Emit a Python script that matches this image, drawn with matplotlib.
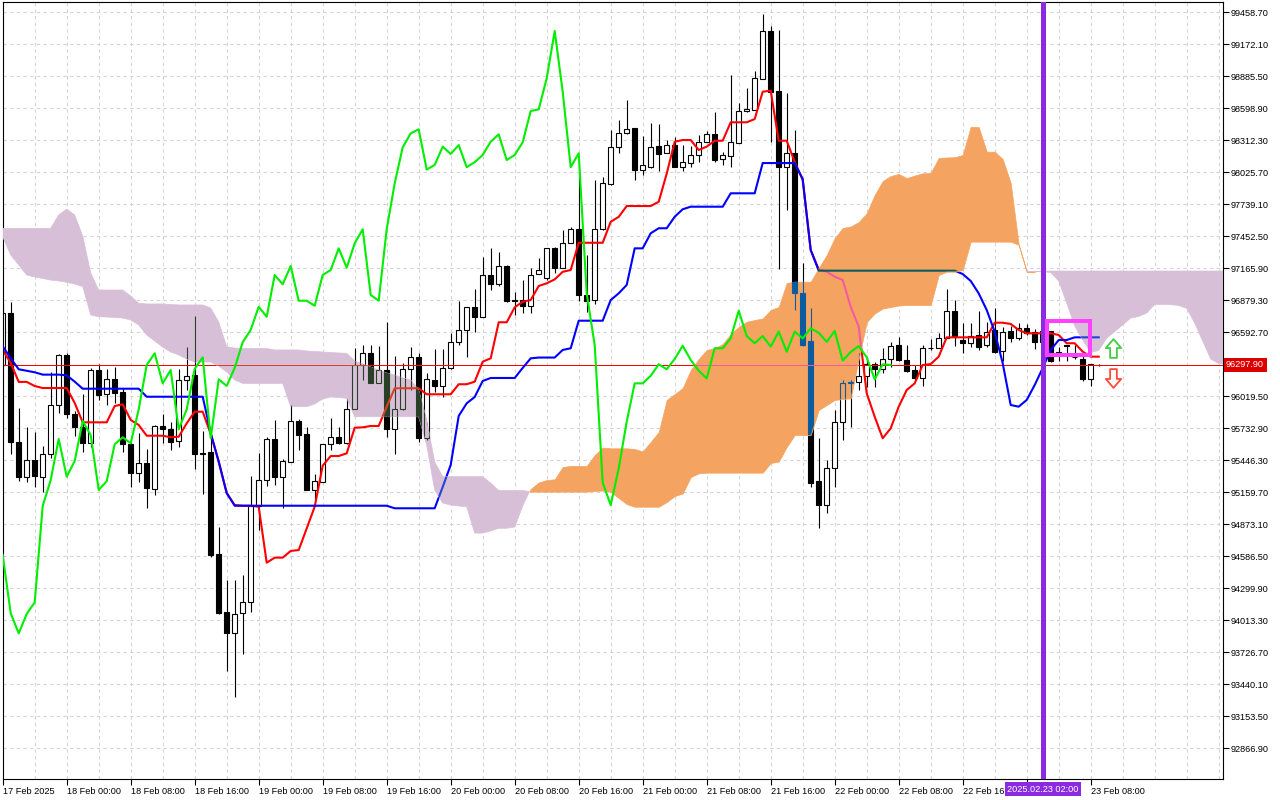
import matplotlib
matplotlib.use("Agg")
import matplotlib.pyplot as plt
import numpy as np
from matplotlib.path import Path
from matplotlib.patches import Rectangle

plt.rcParams["font.family"] = ["Liberation Sans", "DejaVu Sans"]

# BTCUSD H1, first bar = 17 Feb 2025 16:00
opens = [
    96297, 96766, 95610, 95297, 95446, 95291, 95498, 95936, 96384, 95856,
    95745, 95601, 96252, 96035, 96169, 96056, 95587, 95330, 95417, 95189,
    95751, 95721, 95617, 96160, 96208, 95507, 95516, 94605, 94082, 93894,
    94074, 94177, 95035, 95267, 95635, 95297, 95431, 95796, 95679, 95178,
    95252, 95587, 95650, 95596, 95900, 96297, 96402, 96133, 96252, 95721,
    95900, 96262, 96366, 95641, 96163, 96110, 96271, 96501, 96611, 96814,
    96729, 97103, 97020, 97184, 96879, 96879, 96828, 97109, 97076, 97342,
    97169, 97387, 97513, 96924, 96879, 97513, 97918, 98247, 98372, 98417,
    98048, 98074, 98259, 98193, 98267, 98069, 98110, 98178, 98297, 98363,
    98139, 98172, 98288, 98572, 98581, 98859, 99289, 98754, 98069, 98193,
    96939, 96512, 95258, 95043, 95371, 95789, 96142, 96142, 96200, 96304,
    96259, 96351, 96476, 96343, 96252, 96178, 96447, 96447, 96536, 96784,
    96521, 96492, 96566, 96476, 96611, 96426, 96602, 96536, 96626, 96590,
    96505, 96602, 96396, 96476, 96369, 96348, 96169, 96300,
]
highs = [
    96835, 96864, 95910, 95745, 95700, 95572, 96232, 96393, 96402, 95888,
    96037, 96271, 96306, 96262, 96282, 96089, 95596, 95686, 95549, 95760,
    95858, 95789, 96259, 96456, 96736, 95709, 95644, 94844, 94372, 94372,
    94416, 95303, 95509, 95655, 95805, 95455, 95939, 95814, 95745, 95320,
    95590, 95825, 95739, 95993, 96447, 96476, 96476, 96467, 96685, 96378,
    96313, 96462, 96402, 96223, 96441, 96441, 96581, 96870, 96819, 96982,
    97267, 97342, 97312, 97193, 96954, 97059, 97162, 97253, 97342, 97357,
    97506, 97530, 98026, 97282, 97954, 97984, 98402, 98491, 98671, 98417,
    98348, 98462, 98453, 98312, 98336, 98267, 98259, 98357, 98393, 98560,
    98207, 98895, 98641, 98775, 98933, 99441, 99333, 99297, 98731, 98402,
    97207, 96805, 95646, 95446, 95894, 96163, 96163, 96402, 96372, 96325,
    96447, 96501, 96551, 96476, 96297, 96476, 96528, 96581, 96978, 96879,
    96676, 96676, 96784, 96685, 96805, 96640, 96646, 96670, 96661, 96617,
    96655, 96602, 96456, 96476, 96476, 96408, 96306, 96306,
]
lows = [
    96270, 95500, 95260, 95252, 95207, 95160, 95462, 95870, 95825, 95664,
    95515, 95566, 95984, 95939, 95954, 95521, 95207, 95252, 95014, 95136,
    95596, 95536, 95566, 96073, 95363, 95141, 94575, 94067, 93558, 93326,
    93706, 94087, 94820, 95216, 95223, 95019, 95431, 95536, 95178, 95088,
    95249, 95536, 95587, 95587, 95900, 96163, 96133, 96133, 95650, 95498,
    95894, 96073, 95610, 95624, 96058, 96013, 96262, 96476, 96372, 96590,
    96729, 96969, 97007, 96864, 96745, 96760, 96760, 97109, 97058, 97121,
    97166, 97387, 96873, 96775, 96844, 97506, 97909, 98193, 98366, 97954,
    97999, 98059, 98037, 98193, 98069, 98037, 98074, 98118, 98297, 98118,
    98089, 98068, 98288, 98563, 98581, 98859, 98297, 97154, 97685, 96790,
    96465, 95207, 94840, 94974, 95207, 95624, 95745, 96073, 96103, 96103,
    96224, 96282, 96337, 96235, 96163, 96110, 96432, 96447, 96536, 96467,
    96402, 96456, 96432, 96458, 96405, 96337, 96503, 96521, 96566, 96438,
    96476, 96325, 96337, 96337, 96354, 96157, 96110, 96292,
]
closes = [
    96766, 95610, 95297, 95446, 95303, 95498, 95936, 96384, 95856, 95745,
    95601, 96252, 96029, 96169, 96049, 95587, 95330, 95417, 95198, 95751,
    95721, 95610, 96163, 96201, 95498, 95498, 94596, 94074, 93894, 94067,
    94172, 95035, 95267, 95635, 95297, 95437, 95796, 95670, 95178, 95256,
    95587, 95650, 95596, 95900, 96297, 96402, 96133, 96252, 95721, 95900,
    96262, 96366, 95641, 96169, 96110, 96271, 96501, 96611, 96819, 96729,
    97103, 97020, 97184, 96873, 96873, 96828, 97103, 97148, 97342, 97169,
    97387, 97513, 96924, 96873, 97513, 97925, 98247, 98372, 98408, 98048,
    98089, 98253, 98187, 98267, 98069, 98114, 98178, 98297, 98363, 98133,
    98178, 98292, 98572, 98587, 98865, 99289, 98745, 98069, 98193, 96939,
    96476, 95243, 95043, 95371, 95789, 96133, 96133, 96200, 96304, 96259,
    96351, 96470, 96343, 96246, 96178, 96447, 96447, 96536, 96784, 96557,
    96492, 96557, 96462, 96596, 96417, 96596, 96536, 96626, 96586, 96505,
    96602, 96337, 96414, 96467, 96366, 96169, 96303, 96297.9,
]

tenkan = [
    96432, 96316, 96146, 96146, 96109, 96091, 96091, 96091, 96091, 95957,
    95784, 95784, 95784, 95784, 95930, 95945, 95805, 95760, 95664, 95664,
    95664, 95650, 95655, 95775, 95879, 95879, 95680, 95432, 95152, 95043,
    95037, 95037, 95028, 94527, 94572, 94572, 94632, 94640, 94835, 95028,
    95396, 95482, 95482, 95506, 95736, 95739, 95751, 95751, 95924, 96089,
    96089, 96089, 96089, 96035, 96035, 96035, 96035, 96125, 96125, 96148,
    96327, 96357, 96680, 96680, 96814, 96864, 96879, 97005, 97029, 97064,
    97132, 97148, 97392, 97392, 97392, 97392, 97580, 97624, 97721, 97721,
    97721, 97721, 97759, 98011, 98297, 98312, 98312, 98223, 98253, 98306,
    98306, 98471, 98471, 98471, 98500, 98745, 98754, 98306, 98306, 98115,
    97954, 97327, 97155, 97133, 97088, 97059, 96819, 96640, 96044, 95834,
    95641, 95730, 95924, 96073, 96133, 96297, 96306, 96372, 96545, 96545,
    96545, 96545, 96545, 96545, 96676, 96676, 96665, 96611, 96581, 96581,
    96581, 96581, 96566, 96492, 96492, 96417, 96372, 96372,
]
kijun = [
    96466, 96357, 96259, 96246, 96232, 96211, 96211, 96211, 96205, 96148,
    96085, 96085, 96085, 96085, 96085, 96085, 96085, 96085, 96013, 96013,
    96013, 96013, 96013, 96013, 96013, 96013, 95689, 95432, 95149, 95037,
    95037, 95037, 95037, 95037, 95037, 95037, 95037, 95037, 95037, 95037,
    95037, 95037, 95037, 95037, 95037, 95037, 95037, 95037, 95037, 95014,
    95014, 95014, 95014, 95014, 95014, 95205, 95402, 95841, 95954, 96011,
    96154, 96181, 96181, 96181, 96181, 96271, 96357, 96364, 96364, 96364,
    96432, 96447, 96694, 96694, 96694, 96694, 96879, 96939, 97014, 97342,
    97342, 97477, 97522, 97522, 97625, 97692, 97715, 97715, 97715, 97715,
    97715, 97835, 97835, 97835, 97835, 98106, 98106, 98106, 98106, 98106,
    97963, 97327, 97142, 97142, 97142, 97142, 97142, 97142, 97142, 97142,
    97142, 97142, 97142, 97142, 97142, 97142, 97142, 97142, 97142, 97142,
    97112, 97050, 96939, 96790, 96595, 96313, 95939, 95924, 95984, 96118,
    96270, 96432, 96521, 96521, 96545, 96545, 96545, 96545,
]
# senkou spans, already shifted 26 bars forward (bar 0 .. 153)
span_a = [
    97444, 97283, 97193, 97103, 97085, 97072, 97058, 97050, 97038, 97023,
    97000, 96745, 96730, 96727, 96723, 96718, 96700, 96656, 96566, 96512,
    96458, 96414, 96387, 96351, 96324, 96324, 96324, 96288, 96235, 96163,
    96133, 96133, 96133, 96133, 96133, 96133, 95924, 95924, 95924, 95948,
    95993, 96011, 96006, 95999, 95834, 95834, 95834, 95834, 95834, 95834,
    95834, 95834, 95834, 95581, 95178, 95061, 95043, 95034, 95028, 94792,
    94792, 94811, 94835, 94835, 94846, 95034, 95187, 95245, 95267, 95274,
    95384, 95393, 95393, 95393, 95491, 95558, 95551, 95551, 95551, 95545,
    95523, 95608, 95697, 95984, 96037, 96091, 96252, 96351, 96432, 96449,
    96485, 96575, 96638, 96685, 96700, 96714, 96790, 96817, 97032, 97043,
    97043, 97043, 97166, 97282, 97435, 97524, 97538, 97578, 97656, 97820,
    97945, 97990, 98008, 97972, 97994, 98014, 98017, 98151, 98156, 98158,
    98178, 98431, 98429, 98208, 98208, 98142, 97927, 97376, 97133, 97133,
    97133, 97126, 97050, 96853, 96647, 96521, 96409, 96427, 96537, 96597,
    96656, 96718, 96732, 96763, 96839, 96841, 96838, 96830, 96805, 96673,
    96512, 96351, 96311, 96302,
]
span_b = [
    97521, 97521, 97521, 97521, 97521, 97521, 97521, 97641, 97694, 97641,
    97453, 97121, 96969, 96969, 96969, 96969, 96915, 96850, 96844, 96844,
    96844, 96839, 96835, 96835, 96835, 96835, 96808, 96682, 96461, 96449,
    96445, 96445, 96445, 96445, 96432, 96432, 96432, 96432, 96423, 96418,
    96414, 96409, 96405, 96402, 96333, 96306, 96279, 96252, 96226, 96208,
    96181, 96163, 96073, 95805, 95429, 95297, 95297, 95297, 95297, 95297,
    95297, 95240, 95173, 95173, 95173, 95173, 95163, 95163, 95163, 95163,
    95163, 95163, 95163, 95163, 95169, 95173, 95160, 95106, 95052, 95028,
    95028, 95028, 95028, 95070, 95124, 95147, 95294, 95327, 95333, 95333,
    95333, 95333, 95333, 95333, 95333, 95333, 95420, 95432, 95563, 95670,
    95670, 95670, 95894, 95939, 95984, 95993, 95999, 96351, 96682, 96759,
    96803, 96817, 96830, 96835, 96835, 96835, 96835, 97103, 97133, 97133,
    97148, 97402, 97402, 97402, 97402, 97402, 97402, 97374, 97133, 97133,
    97139, 97139, 97139, 97139, 97139, 97139, 97139, 97139, 97139, 97139,
    97139, 97139, 97139, 97139, 97139, 97139, 97139, 97139, 97139, 97139,
    97139, 97139, 97139, 97139,
]
chikou_shift = 26

price_ticks = [92866.9 + 286.6 * k for k in range(24)]
date_labels = [
    "17 Feb 2025", "18 Feb 00:00", "18 Feb 08:00", "18 Feb 16:00",
    "19 Feb 00:00", "19 Feb 08:00", "19 Feb 16:00", "20 Feb 00:00",
    "20 Feb 08:00", "20 Feb 16:00", "21 Feb 00:00", "21 Feb 08:00",
    "21 Feb 16:00", "22 Feb 00:00", "22 Feb 08:00", "22 Feb 16:00",
    "", "23 Feb 08:00",
]
current_price = 96297.9
marker_bar = 130
marker_label = "2025.02.23 02:00"
box_bars = [130.55, 135.9]
box_prices = [96384, 96689]
arrow_bar = 138.8
arrow_up_price = 96449
arrow_down_price = 96185

C_ORANGE = "#f4a460"
C_THISTLE = "#d8bfd8"
C_RED = "#ff0000"
C_BLUE = "#0000ff"
C_GREEN = "#00ee00"

# hollow arrow marker shapes
ARROW_UP = Path([(0, 1), (0.82, 0.05), (0.36, 0.05), (0.36, -1), (-0.36, -1),
                 (-0.36, 0.05), (-0.82, 0.05), (0, 1)], closed=True)
ARROW_DOWN = Path([(0, -1), (0.82, -0.05), (0.36, -0.05), (0.36, 1), (-0.36, 1),
                   (-0.36, -0.05), (-0.82, -0.05), (0, -1)], closed=True)


def xor_color(c1, c2):
    a = int(c1[1:], 16)
    b = int(c2[1:], 16)
    return "#%06x" % (a ^ b)


def draw_candles(ax, bars, up_face, down_face, edge, z):
    o = np.array(opens)
    c = np.array(closes)
    h = np.array(highs)
    l = np.array(lows)
    arts = [ax.vlines(bars, l, h, colors=edge, lw=0.8, zorder=z)]
    bottom = np.minimum(o, c)
    height = np.maximum(np.abs(c - o), 1.0)
    up = c >= o
    for mask, face in [(up, up_face), (~up, down_face)]:
        bc = ax.bar(bars[mask], height[mask], bottom=bottom[mask], width=0.62,
                    facecolor=face, edgecolor=edge, lw=0.8, zorder=z + 0.01)
        arts.extend(bc.patches)
    return arts


def price_line(ax, color, z):
    return ax.plot([xmin, xmax], [current_price, current_price], color=color,
                   lw=0.7, antialiased=False, zorder=z)


fig = plt.figure(figsize=(12.8, 8), dpi=100)
ax = fig.add_axes([2.5 / 1280, 21 / 800, 1220.2 / 1280, 776.7 / 800])
xmin, xmax = -0.025, 152.5
ax.set_xlim(xmin, xmax)
ax.set_ylim(92589.5, 99545.6)

bars = np.arange(len(closes))
cloud_x = np.arange(len(span_a))
sa = np.array(span_a, dtype=float)
sb = np.array(span_b, dtype=float)

# candles + lines under the cloud
draw_candles(ax, bars, "white", "black", "black", 2)
ax.plot(bars, tenkan, color=C_RED, lw=1.5, zorder=2.5)
ax.plot(bars, kijun, color=C_BLUE, lw=1.5, zorder=2.6)
price_line(ax, C_RED, 2.4)

orange = ax.fill_between(cloud_x, sa, sb, where=sa >= sb, interpolate=True,
                         facecolor=C_ORANGE, edgecolor=C_ORANGE, lw=0.5, zorder=3)
purple = ax.fill_between(cloud_x, sa, sb, where=sa <= sb, interpolate=True,
                         facecolor=C_THISTLE, edgecolor=C_THISTLE, lw=0.5, zorder=3)

# MT draws the cloud in xor mode, redo what is under it
for fill, face in [(orange, C_ORANGE), (purple, C_THISTLE)]:
    paths = fill.get_paths()
    if not paths:
        continue
    cp = Path.make_compound_path(*paths)
    mask = xor_color("#ffffff", face)
    arts = draw_candles(ax, bars, face, mask, mask, 3.2)
    arts += ax.plot(bars, tenkan, color=xor_color(C_RED, mask), lw=1.5, zorder=3.5)
    arts += ax.plot(bars, kijun, color=xor_color(C_BLUE, mask), lw=1.5, zorder=3.6)
    arts += price_line(ax, xor_color(C_RED, mask), 3.4)
    for a in arts:
        a.set_clip_path(cp, ax.transData)

# chikou span = close shifted back
ax.plot(bars[:-chikou_shift], closes[chikou_shift:], color=C_GREEN, lw=1.5, zorder=4)

ax.axvline(marker_bar, color="#8a2be2", lw=3.6, zorder=6)
ax.add_patch(Rectangle((box_bars[0], box_prices[0]), box_bars[1] - box_bars[0],
                       box_prices[1] - box_prices[0], fill=False,
                       edgecolor="#ff40ff", lw=2.9, zorder=6))
ax.plot([arrow_bar], [arrow_up_price], marker=ARROW_UP, markersize=13.5,
        markerfacecolor="white", markeredgecolor="#44cc44", mew=1.3, ls="none", zorder=6)
ax.plot([arrow_bar], [arrow_down_price], marker=ARROW_DOWN, markersize=13.5,
        markerfacecolor="white", markeredgecolor="#ff4a3a", mew=1.3, ls="none", zorder=6)

# axes / grid
ax.set_yticks(price_ticks)
hidden = [abs(v - current_price) < 50 for v in price_ticks]
ax.set_yticklabels(["" if h else "%.2f" % v for v, h in zip(price_ticks, hidden)])
ax.yaxis.tick_right()
ax.set_xticks(np.arange(0, 8 * len(date_labels), 8))
ax.set_xticklabels(date_labels, ha="left")
ax.set_xticks(np.arange(0, 153, 4), minor=True)
ax.tick_params(axis="both", direction="out", length=4, width=0.8,
               labelsize=6.6, pad=1.5, color="black")
ax.tick_params(axis="x", which="minor", length=0)
ax.grid(True, which="both", color="#d4d4d4", lw=0.8, ls=(0, (3, 3)))
ax.set_axisbelow(True)
# the price line sits on this grid row
for t, h in zip(ax.yaxis.get_major_ticks(), hidden):
    if h:
        t.gridline.set_visible(False)
for s in ax.spines.values():
    s.set_color("black")
    s.set_linewidth(0.8)

ax.text(1.0028, current_price, "%.2f" % current_price, transform=ax.get_yaxis_transform(),
        ha="left", va="center", fontsize=6.6, color="white", zorder=10, clip_on=False,
        bbox=dict(boxstyle="square,pad=0.28", fc="#dd0000", ec="none"))
ax.text(marker_bar, -0.0132, marker_label, transform=ax.get_xaxis_transform(),
        ha="center", va="center", fontsize=6.6, color="white", zorder=10, clip_on=False,
        bbox=dict(boxstyle="square,pad=0.25", fc="#8a2be2", ec="none"))

fig.savefig("out.png", dpi=100, facecolor="white")
